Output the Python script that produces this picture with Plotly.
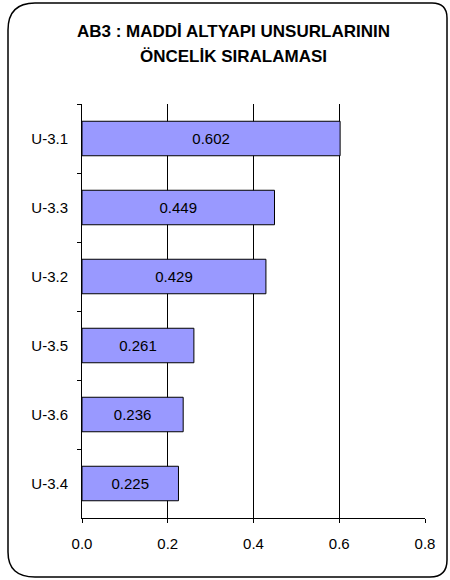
import plotly.graph_objects as go

categories = ["U-3.1", "U-3.3", "U-3.2", "U-3.5", "U-3.6", "U-3.4"]
values = [0.602, 0.449, 0.429, 0.261, 0.236, 0.225]
x_ticks = [0.0, 0.2, 0.4, 0.6, 0.8]
x_tick_labels = ["0.0", "0.2", "0.4", "0.6", "0.8"]
title_lines = ["AB3 : MADDİ ALTYAPI UNSURLARININ", "ÖNCELİK SIRALAMASI"]

W, H = 450, 580
L, R, T, B = 82, 25, 104, 62
pw, ph = W - L - R, H - T - B

def px(x):
    return (x - L) / pw

def py(y):
    return (H - B - y) / ph

fig = go.Figure()
fig.add_trace(go.Bar(
    y=categories, x=values, orientation="h",
    marker=dict(color="#9999FF", line=dict(color="black", width=1)),
    width=0.5,
    text=[f"{v:.3f}" for v in values],
    textposition="inside", insidetextanchor="middle",
    textfont=dict(family="Liberation Sans, Arial", size=15, color="black"),
    constraintext="none",
))

# rounded border
pts = [
    ("M", 8, 30), ("Q", 8, 3, 35, 3), ("L", 432, 3), ("Q", 447, 3, 447, 18),
    ("L", 447, 560), ("Q", 447, 577, 430, 577), ("L", 35, 577),
    ("Q", 8, 577, 8, 552), ("Z",)
]
path = ""
for p in pts:
    cmd = p[0]
    coords = p[1:]
    s = cmd
    for i in range(0, len(coords), 2):
        s += f" {px(coords[i]):.5f},{py(coords[i+1]):.5f}"
    path += s + " "

fig.add_shape(type="path", path=path.strip(), xref="paper", yref="paper",
              line=dict(color="black", width=1.5), layer="below")

for line, yy in zip(title_lines, [31, 57]):
    fig.add_annotation(
        text=f"<b>{line}</b>", xref="paper", yref="paper",
        x=px(233), y=py(yy), xanchor="center", yanchor="middle",
        showarrow=False,
        font=dict(family="Liberation Sans, Arial", size=17, color="black"),
    )

fig.update_layout(
    width=W, height=H,
    margin=dict(l=L, r=R, t=T, b=B),
    paper_bgcolor="white", plot_bgcolor="white",
    showlegend=False,
    font=dict(family="Liberation Sans, Arial", size=15, color="black"),
)
fig.update_xaxes(
    range=[0, 0.8], tickvals=x_ticks, ticktext=x_tick_labels,
    showgrid=True, gridcolor="black", gridwidth=1,
    showline=True, linecolor="black", linewidth=1,
    ticks="outside", ticklen=4, tickcolor="black", zeroline=False,
    tickfont=dict(size=15), ticklabelstandoff=8,
)
fig.update_yaxes(
    autorange="reversed", showline=True, linecolor="black", linewidth=1,
    ticks="outside", ticklen=4, tickcolor="black", tickson="boundaries",
    showgrid=False, tickfont=dict(size=15), ticklabelstandoff=10,
)

fig.write_html("out.html", config={"displayModeBar": False},
               post_script="document.body.style.margin='0';")
